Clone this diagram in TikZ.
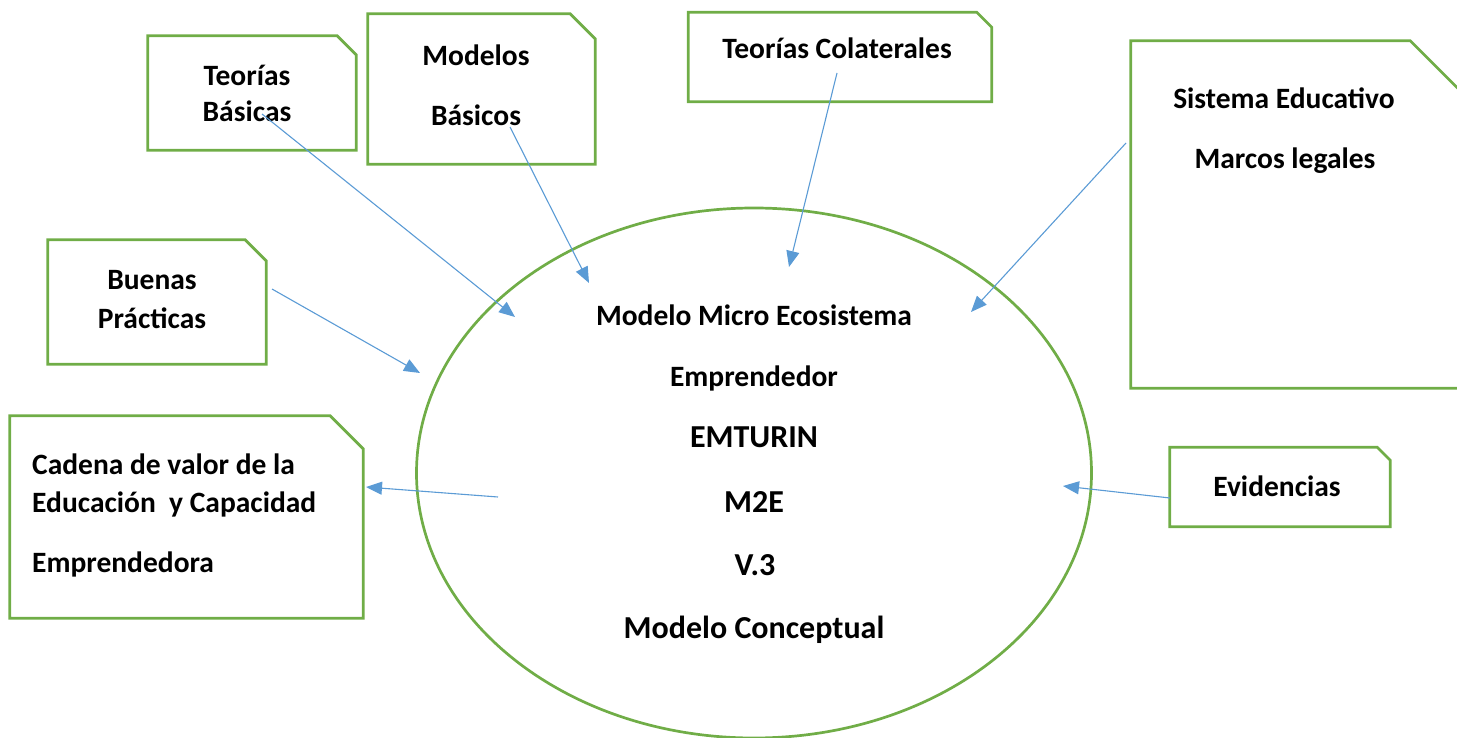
\documentclass[tikz,border=0pt]{standalone}
\usepackage{fontspec}
\setmainfont{Carlito}
\usetikzlibrary{arrows.meta}
\usetikzlibrary{shapes.geometric}
\definecolor{verde}{HTML}{70AD47}
\definecolor{azul}{HTML}{5B9BD5}
\tikzstyle{flecha} = [-{Triangle[length=16pt,width=13pt]},azul,line width=1.1pt]
\tikzstyle{borde} = [verde,line width=2.7pt,line join=miter]
\tikzstyle{caja} = [inner sep=0pt]
\tikzstyle{texto} = [anchor=base,inner sep=0pt,font=\bfseries\fontsize{29.5}{35}\selectfont]
\tikzstyle{grande} = [font=\bfseries\fontsize{32}{38}\selectfont]
\newcommand{\recorte}[2]{%
	\draw[borde] (#1.north west) -- ([xshift=-#2]#1.north east) -- ([yshift=-#2]#1.north east)
		-- (#1.south east) -- (#1.south west) -- cycle;}

\begin{document}
\begin{tikzpicture}[x=1pt,y=-1pt]
	\useasboundingbox (0,0) rectangle (1457,738);
	\clip (0,0) rectangle (1457,738);

%% Elipse central
	\node[ellipse,draw=verde,line width=2.7pt,minimum width=675pt,minimum height=530pt] (eco) at (754,473) {};
	\node[texto] (mme) at (754,325) {Modelo Micro Ecosistema};
	\node[texto] (emp) at (754,386) {Emprendedor};
	\node[texto,grande] (emt) at (754,447) {EMTURIN};
	\node[texto,grande] (m2e) at (754,512) {M2E};
	\node[texto,grande] (v3) at (755,575) {V.3};
	\node[texto,grande] (mc) at (754,638) {Modelo Conceptual};

%% Cajas
	\node[caja,minimum width=208pt,minimum height=114pt] (tb) at (252,93) {};
	\recorte{tb}{19pt}
	\node[texto] (tb1) at (247,86) {Teorías};
	\node[texto] (tb2) at (247,122) {Básicas};

	\node[caja,minimum width=227pt,minimum height=150pt] (mb) at (481.5,89) {};
	\recorte{mb}{25pt}
	\node[texto] (mb1) at (476,66) {Modelos};
	\node[texto] (mb2) at (476,126) {Básicos};

	\node[caja,minimum width=303pt,minimum height=89pt] (tc) at (840,57) {};
	\recorte{tc}{15pt}
	\node[texto] (tc1) at (837,59) {Teorías Colaterales};

	\node[caja,minimum width=337pt,minimum height=347pt] (se) at (1299.5,214.5) {};
	\recorte{se}{58pt}
	\node[texto] (se1) at (1284,109) {Sistema Educativo};
	\node[texto] (se2) at (1285,169) {Marcos legales};

	\node[caja,minimum width=218pt,minimum height=124pt] (bp) at (157,302) {};
	\recorte{bp}{21pt}
	\node[texto] (bp1) at (152,290) {Buenas};
	\node[texto] (bp2) at (152,328) {Prácticas};

	\node[caja,minimum width=353pt,minimum height=202pt] (cv) at (186.5,517) {};
	\recorte{cv}{33pt}
	\node[texto,anchor=base west] (cv1) at (32,474) {Cadena de valor de la};
	\node[texto,anchor=base west] (cv2) at (32,512) {Educación\ \ y Capacidad};
	\node[texto,anchor=base west] (cv3) at (32,572) {Emprendedora};

	\node[caja,minimum width=220pt,minimum height=79pt] (ev) at (1280,487) {};
	\recorte{ev}{13pt}
	\node[texto] (ev1) at (1277,496) {Evidencias};

%% Flechas
	\coordinate (tb-a) at (262,114);
	\coordinate (tb-b) at (515,317);
	\draw[flecha] (tb-a) -- (tb-b);

	\coordinate (mb-a) at (510,127);
	\coordinate (mb-b) at (589,283);
	\draw[flecha] (mb-a) -- (mb-b);

	\coordinate (tc-a) at (837,73);
	\coordinate (tc-b) at (789,267);
	\draw[flecha] (tc-a) -- (tc-b);

	\coordinate (se-a) at (1126,143);
	\coordinate (se-b) at (971,312);
	\draw[flecha] (se-a) -- (se-b);

	\coordinate (bp-a) at (272,289);
	\coordinate (bp-b) at (420,373);
	\draw[flecha] (bp-a) -- (bp-b);

	\coordinate (cv-a) at (498,497);
	\coordinate (cv-b) at (366,487);
	\draw[flecha] (cv-a) -- (cv-b);

	\coordinate (ev-a) at (1170,498);
	\coordinate (ev-b) at (1063,486);
	\draw[flecha] (ev-a) -- (ev-b);

\end{tikzpicture}
\end{document}
